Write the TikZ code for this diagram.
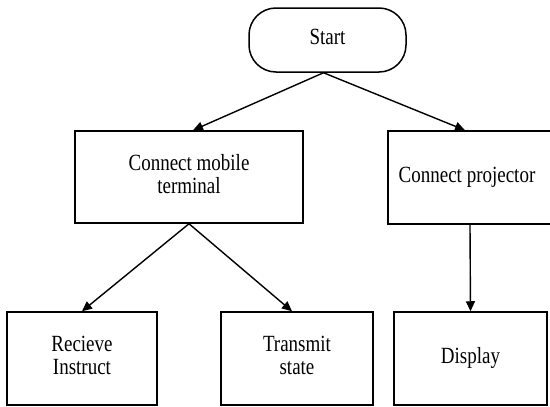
\documentclass[tikz,border=0pt]{standalone}
\usepackage{fontspec}
\usepackage{graphicx}
\setmainfont{Liberation Serif}
\usetikzlibrary{arrows.meta,calc}
\newcommand\vtext[1]{\scalebox{1}[1.22]{\begin{tabular}{@{}c@{}}#1\end{tabular}}}
\begin{document}
\begin{tikzpicture}[x=1pt,y=-1pt,
  box/.style={draw,line width=1.5pt,align=center,inner sep=0pt,
    font=\fontsize{19}{18.5}\selectfont},
  arr/.style={line width=1.4pt,-{Triangle[length=10pt,width=9pt]}}]
\useasboundingbox (0,0) rectangle (550,407);
\node[box,rounded corners=27pt,minimum width=157pt,minimum height=64pt] (start) at (327.5,40) {\vtext{Start}};
\node[box,minimum width=228pt,minimum height=92pt] (cm) at (189,177) {\vtext{Connect mobile\\terminal}};
\node[box,minimum width=164pt,minimum height=93pt] (cp) at (470,177.5) {\hspace*{-3pt}\vtext{Connect projector}\hspace*{3pt}};
\node[box,minimum width=150pt,minimum height=93pt] (ri) at (82,358.5) {\vtext{Recieve\\Instruct}};
\node[box,minimum width=152pt,minimum height=93pt] (ts) at (297,358.5) {\vtext{Transmit\\state}};
\node[box,minimum width=153pt,minimum height=93pt] (di) at (470.5,358.5) {\vtext{Display}};
\coordinate (sa) at ($(start.south)+(-4,0)$);
\draw[arr] (sa) -- ([xshift=4pt]cm.north);
\draw[arr] (sa) -- ([xshift=-5pt]cp.north);
\draw[arr] (cm.south) -- (ri.north);
\draw[arr] (cm.south) -- ([xshift=-5pt]ts.north);
\draw[arr] (cp.south) -- (di.north);
\end{tikzpicture}
\end{document}
